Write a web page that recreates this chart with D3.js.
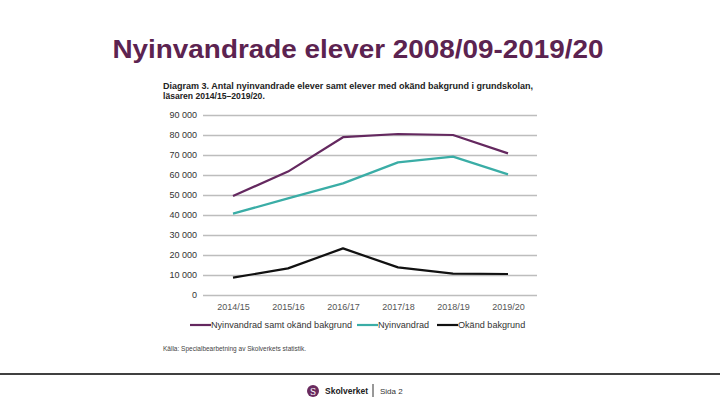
<!DOCTYPE html>
<html><head><meta charset="utf-8">
<script src="https://cdn.jsdelivr.net/npm/d3@7"></script>
<style>body{margin:0;background:#fff}svg{display:block}</style>
</head><body>
<svg id="c" width="720" height="405"></svg>
<script>
const years = ["2014/15","2015/16","2016/17","2017/18","2018/19","2019/20"];
const total = [49500, 61700, 78900, 80500, 80000, 70800];
const nyinvandrad = [40700, 48300, 55800, 66300, 69200, 60300];
const okand = [8700, 13300, 23300, 13800, 10700, 10500];
const yTicks = [0,10000,20000,30000,40000,50000,60000,70000,80000,90000];
const seriesNames = ["Nyinvandrad samt okänd bakgrund","Nyinvandrad","Okänd bakgrund"];
const colors = ["#64285f","#3aada6","#111111"];

const svg = d3.select("#c");
const font = "'Liberation Sans', Arial, sans-serif";

svg.append("text").attr("x",358).attr("y",58).attr("text-anchor","middle")
  .attr("font-family",font).attr("font-size",25).attr("font-weight","bold").attr("fill","#5c2350")
  .attr("textLength",491).attr("lengthAdjust","spacingAndGlyphs")
  .text("Nyinvandrade elever 2008/09-2019/20");

const hdr = ["Diagram 3. Antal nyinvandrade elever samt elever med okänd bakgrund i grundskolan,","läsaren 2014/15–2019/20."];
hdr.forEach((t,i)=>{
  svg.append("text").attr("x",163).attr("y",89+i*9.5).attr("font-family",font).attr("font-size",8.6)
    .attr("font-weight","bold").attr("fill","#222")
    .attr("textLength", i===0?370:null).attr("lengthAdjust","spacingAndGlyphs")
    .text(t);
});

const x = d3.scalePoint().domain(years).range([233,508]);
const y = d3.scaleLinear().domain([0,90000]).range([295,115]);

const fmt = v => v===0 ? "0" : d3.format(",")(v).replace(",", " ");
const yAxis = svg.append("g").attr("transform","translate(203,0)")
  .call(d3.axisLeft(y).tickValues(yTicks).tickSize(-334).tickFormat(fmt).tickPadding(6));
yAxis.select(".domain").remove();
yAxis.selectAll(".tick line").attr("stroke","#bdbdbd").attr("stroke-width",1.3);
yAxis.selectAll(".tick text").attr("font-family",font).attr("font-size",9).attr("fill","#333");

const xAxis = svg.append("g").attr("transform","translate(0,295)")
  .call(d3.axisBottom(x).tickSize(0).tickPadding(9));
xAxis.select(".domain").remove();
xAxis.selectAll(".tick text").attr("font-family",font).attr("font-size",9).attr("fill","#555");

const data = [total, nyinvandrad, okand];
const line = d3.line().x((d,i)=>x(years[i])).y(d=>y(d));
data.forEach((s,k)=>{
  svg.append("path").attr("d",line(s)).attr("fill","none").attr("stroke",colors[k])
    .attr("stroke-width",2.2).attr("stroke-linejoin","round");
});

const legX = [190, 357, 437];
seriesNames.forEach((n,k)=>{
  const g = svg.append("g").attr("transform",`translate(${legX[k]},325)`);
  g.append("line").attr("x1",0).attr("x2",21).attr("y1",0).attr("y2",0)
    .attr("stroke",colors[k]).attr("stroke-width",2.2);
  g.append("text").attr("x",21).attr("y",3.3).attr("font-family",font).attr("font-size",9.1)
    .attr("fill","#333").text(n);
});

svg.append("text").attr("x",163).attr("y",351).attr("font-family",font).attr("font-size",6.5)
  .attr("fill","#444").text("Källa: Specialbearbetning av Skolverkets statistik.");

svg.append("line").attr("x1",0).attr("x2",720).attr("y1",374).attr("y2",374)
  .attr("stroke","#000").attr("stroke-width",1.5);

svg.append("circle").attr("cx",313).attr("cy",391).attr("r",6).attr("fill","#6a2b5f");
svg.append("text").attr("x",313).attr("y",394.5).attr("text-anchor","middle").attr("font-family","'DejaVu Serif', serif")
  .attr("font-size",9).attr("fill","#fff").text("S");
svg.append("text").attr("x",325).attr("y",394).attr("font-family",font).attr("font-size",8.5)
  .attr("font-weight","bold").attr("fill","#222").text("Skolverket");
svg.append("line").attr("x1",373).attr("x2",373).attr("y1",384).attr("y2",397).attr("stroke","#333").attr("stroke-width",1);
svg.append("text").attr("x",380).attr("y",394).attr("font-family",font).attr("font-size",8)
  .attr("fill","#333").text("Sida 2");
</script>
</body></html>
